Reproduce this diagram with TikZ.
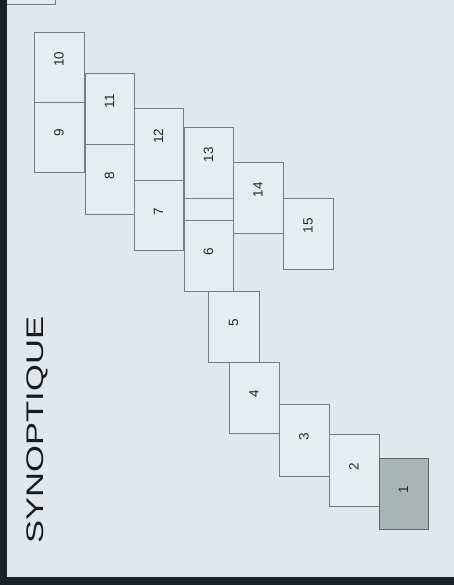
\documentclass[tikz,border=0pt]{standalone}
\usepackage{fontspec}
\setmainfont{Liberation Sans}
\usetikzlibrary{fit}
\definecolor{paper}{HTML}{E0E8ED}
\definecolor{boxfill}{HTML}{E6EDF1}
\definecolor{edge}{HTML}{737D82}
\definecolor{dark}{HTML}{1B2225}
\definecolor{shade}{HTML}{AAB4B5}
\tikzset{
  sheet/.style={draw=edge, line width=0.9pt, fill=boxfill, inner sep=0pt,
    font=\fontsize{13.5}{13.5}\selectfont, text=black!85},
  sel/.style={sheet, fill=shade, draw=black!60},
}
\begin{document}
\begin{tikzpicture}[x=1pt, y=-1pt]
\useasboundingbox (0,0) rectangle (454,585);
\fill[paper] (0,0) rectangle (454,585);
% scan edges
\fill[dark] (0,0) rectangle (7,585);
\fill[dark] (0,577) rectangle (454,585);
\draw[edge, line width=0.9pt] (7,4) -- (55,4) -- (55,0);
% sheets
\node[sheet, fit={(34,32) (84,102)}] (b10) {\rotatebox{90}{10}};
\node[sheet, fit={(34,102) (84,172)}] (b9) {\rotatebox{90}{9}};
\node[sheet, fit={(85,73) (134,144)}] (b11) {\rotatebox{90}{11}};
\node[sheet, fit={(85,144) (134,214)}] (b8) {\rotatebox{90}{8}};
\node[sheet, fit={(134,108) (183,180)}] (b12) {\rotatebox{90}{12}};
\node[sheet, fit={(134,180) (183,250)}] (b7) {\rotatebox{90}{7}};
\node[sheet, fit={(184,127) (233,198)}] (b13) {\rotatebox{90}{13}};
\node[sheet, fit={(184,198) (233,220)}] (bstrip) {};
\node[sheet, fit={(184,220) (233,291)}] (b6) {\rotatebox{90}{6}};
\node[sheet, fit={(233,162) (283,233)}] (b14) {\rotatebox{90}{14}};
\node[sheet, fit={(283,198) (333,269)}] (b15) {\rotatebox{90}{15}};
\node[sheet, fit={(208,291) (259,362)}] (b5) {\rotatebox{90}{5}};
\node[sheet, fit={(229,362) (279,433)}] (b4) {\rotatebox{90}{4}};
\node[sheet, fit={(279,404) (329,476)}] (b3) {\rotatebox{90}{3}};
\node[sheet, fit={(329,434) (379,506)}] (b2) {\rotatebox{90}{2}};
\node[sel, fit={(379,458) (428,529)}] (b1) {\rotatebox{90}{1}};
% title
\node[text=black!90, font=\fontsize{24}{24}\selectfont, anchor=center] (title) at (37,430)
  {\rotatebox{90}{\scalebox{1.44}[1]{SYNOPTIQUE}}};
\end{tikzpicture}
\end{document}
